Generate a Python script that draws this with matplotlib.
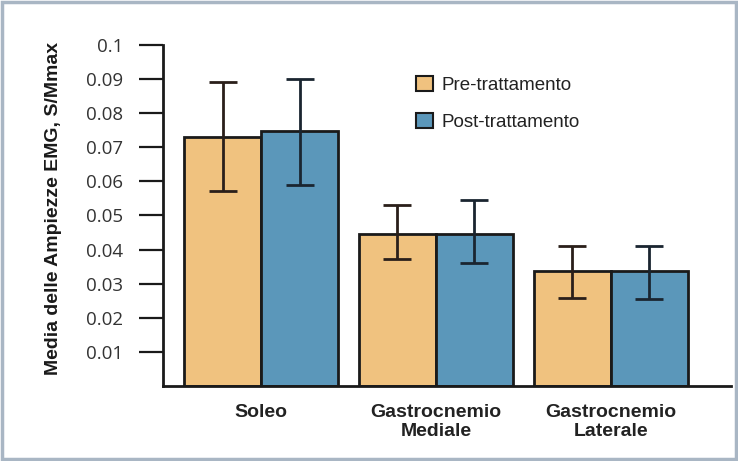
import matplotlib.pyplot as plt
import matplotlib.patches as mpatches
import numpy as np

muscles = ['Soleo', 'Gastrocnemio\nMediale', 'Gastrocnemio\nLaterale']
pre_mean = [0.073, 0.0447, 0.0336]
pre_err_hi = [0.0892, 0.0532, 0.041]
pre_err_lo = [0.0573, 0.0371, 0.0257]
post_mean = [0.0749, 0.0447, 0.0336]
post_err_hi = [0.090, 0.0544, 0.041]
post_err_lo = [0.059, 0.036, 0.0254]
y_ticks = [0.01, 0.02, 0.03, 0.04, 0.05, 0.06, 0.07, 0.08, 0.09, 0.1]

pre_color = '#F0C27F'
post_color = '#5B97BA'

plt.rcParams['font.family'] = ['Liberation Sans', 'DejaVu Sans']

fig = plt.figure(figsize=(7.38, 4.61), dpi=100)
ax = fig.add_axes([0.2209, 0.1627, 0.7696, 0.7397])

x = np.arange(len(muscles))
w = 0.44
pre_yerr = [np.array(pre_mean) - np.array(pre_err_lo), np.array(pre_err_hi) - np.array(pre_mean)]
post_yerr = [np.array(post_mean) - np.array(post_err_lo), np.array(post_err_hi) - np.array(post_mean)]

ax.bar(x - w / 2, pre_mean, w, color=pre_color, edgecolor='#1a1a1a', linewidth=2, zorder=2)
ax.bar(x + w / 2, post_mean, w, color=post_color, edgecolor='#1a1a1a', linewidth=2, zorder=2)
ax.errorbar(x - w / 2, pre_mean, yerr=pre_yerr, fmt='none', ecolor='#2a1f1a', elinewidth=2,
            capsize=10, capthick=2, zorder=3)
ax.errorbar(x + w / 2, post_mean, yerr=post_yerr, fmt='none', ecolor='#1a2530', elinewidth=2,
            capsize=10, capthick=2, zorder=3)

ax.set_xlim(-0.56, 2.686)
ax.set_ylim(0, 0.1)
ax.set_yticks(y_ticks)
ax.set_yticklabels([f'{t:g}' for t in y_ticks], fontsize=13.5, color='#333333', family='Open Sans')
ax.tick_params(axis='y', direction='out', length=17.5, width=1.6, color='#1a1a1a', pad=11)
ax.set_xticks(x)
ax.set_xticklabels(muscles, fontsize=14, fontweight='bold', color='#222222', linespacing=1.15)
ax.tick_params(axis='x', length=0, pad=13)
for s in ['top', 'right']:
    ax.spines[s].set_visible(False)
for s in ['left', 'bottom']:
    ax.spines[s].set_linewidth(2)
    ax.spines[s].set_color('#1a1a1a')

ax.set_ylabel('Media delle Ampiezze EMG, S/Mmax', fontsize=14, fontweight='bold', color='#1a1a1a')
ax.yaxis.set_label_coords(-0.178, 0.52)

handles = [mpatches.Patch(facecolor=pre_color, edgecolor='#1a1a1a', linewidth=1.5, label='Pre-trattamento'),
           mpatches.Patch(facecolor=post_color, edgecolor='#1a1a1a', linewidth=1.5, label='Post-trattamento')]
ax.legend(handles=handles, loc='upper left', bbox_to_anchor=(0.445, 0.91), frameon=False,
          borderaxespad=0, borderpad=0, fontsize=13.5, handlelength=0.9, handleheight=0.85,
          handletextpad=0.45, labelspacing=1.05, labelcolor='#222222')

fig.patches.append(mpatches.Rectangle((0.003, 0.004), 0.994, 0.992, transform=fig.transFigure,
                                      fill=False, edgecolor='#A9B6C4', linewidth=2.5))

fig.savefig('out.png', dpi=100)
